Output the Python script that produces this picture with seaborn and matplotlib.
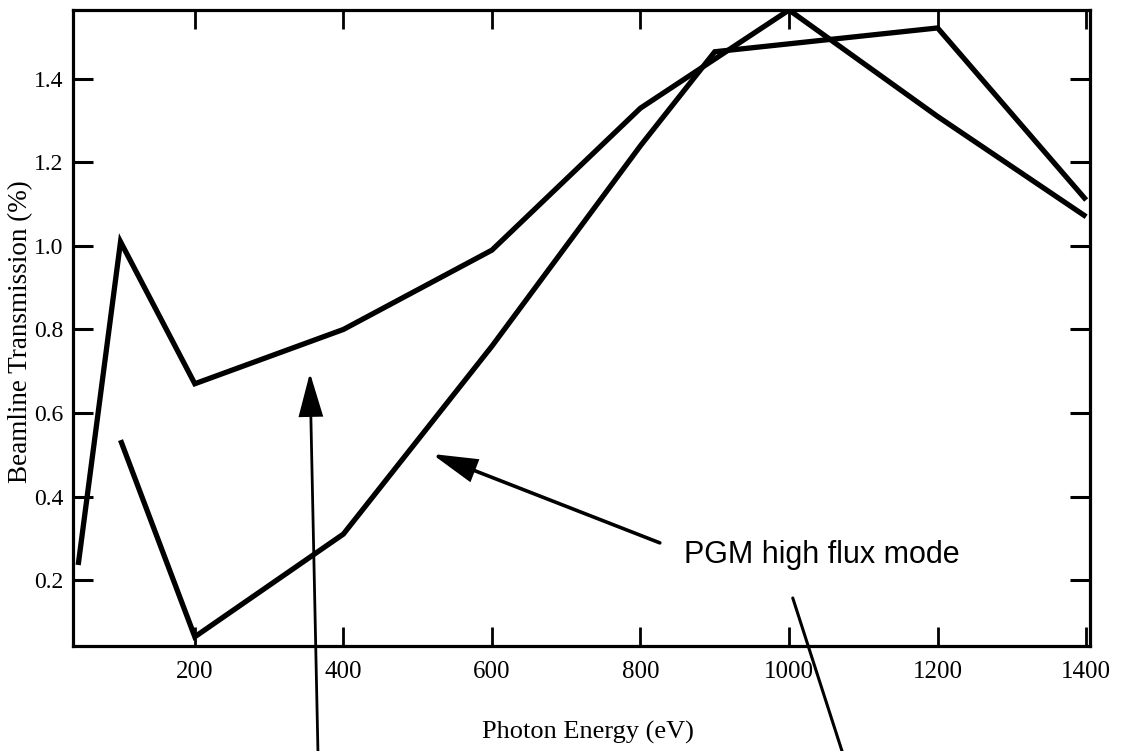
import matplotlib
matplotlib.use("Agg")
import matplotlib.pyplot as plt
import seaborn as sns
import pandas as pd

# ---- data ----
upper_energy = [43, 100, 200, 400, 600, 800, 1000, 1200, 1400]
upper_trans = [0.236, 1.01, 0.67, 0.80, 0.99, 1.33, 1.565, 1.31, 1.07]

pgm_energy = [100, 200, 400, 600, 800, 900, 1200, 1400]
pgm_trans = [0.535, 0.064, 0.31, 0.76, 1.24, 1.465, 1.522, 1.11]

xticks = [200, 400, 600, 800, 1000, 1200, 1400]
xtick_labels = ["200", "400", "600", "800", "1000", "1200", "1400"]
yticks = [0.2, 0.4, 0.6, 0.8, 1.0, 1.2, 1.4]
ytick_labels = ["0.2", "0.4", "0.6", "0.8", "1.0", "1.2", "1.4"]

x_label = "Photon Energy (eV)"
y_label = "Beamline Transmission (%)"
annotation_text = "PGM high flux mode"

sns.set_theme(style="ticks")
plt.rcParams["font.family"] = ["Liberation Serif", "DejaVu Serif"]

fig = plt.figure(figsize=(11.23, 7.51), dpi=100)
ax = fig.add_axes([0.065, 0.1398, 0.9055, 0.8469])

df_up = pd.DataFrame({"energy": upper_energy, "trans": upper_trans})
df_pgm = pd.DataFrame({"energy": pgm_energy, "trans": pgm_trans})

for d in (df_up, df_pgm):
    sns.lineplot(data=d, x="energy", y="trans", ax=ax, sort=False,
                 color="black", linewidth=3.8, estimator=None)
for ln in ax.lines:
    ln.set_solid_joinstyle("miter")
    ln.set_solid_capstyle("butt")

ax.set_xlim(36, 1405)
ax.set_ylim(0.042, 1.565)

ax.set_xticks(xticks)
ax.set_xticklabels(xtick_labels, fontsize=18)
ax.set_yticks(yticks)
ax.set_yticklabels(ytick_labels, fontsize=17)

ax.tick_params(axis="x", direction="in", length=13.5, width=2.0, pad=11,
               top=True, bottom=True, colors="black")
ax.tick_params(axis="y", direction="in", length=14.5, width=2.2, pad=7,
               left=True, right=True, colors="black")

for s in ax.spines.values():
    s.set_visible(True)
    s.set_linewidth(2.3)
    s.set_color("black")

ax.set_xlabel(x_label, fontsize=19, color="black")
ax.set_ylabel(y_label, fontsize=19.5, color="black")
ax.xaxis.set_label_coords(0.506, -0.118)
ax.yaxis.set_label_coords(-0.039, 0.495)

# annotation arrows (in data coordinates)
ax.annotate("", xy=(355, 0.696), xytext=(366, -0.23), xycoords="data",
            annotation_clip=False,
            arrowprops=dict(arrowstyle="-|>,head_length=1.35,head_width=0.38",
                            mutation_scale=20, lw=2.0, color="black",
                            shrinkA=0, shrinkB=0, joinstyle="miter"))
ax.annotate("", xy=(519, 0.502), xytext=(826, 0.289), xycoords="data",
            annotation_clip=False,
            arrowprops=dict(arrowstyle="-|>,head_length=1.35,head_width=0.36",
                            mutation_scale=20, lw=2.6, color="black",
                            shrinkA=0, shrinkB=0, joinstyle="miter"))
ax.annotate("", xy=(1005, 0.157), xytext=(1075, -0.23), xycoords="data",
            annotation_clip=False,
            arrowprops=dict(arrowstyle="-", lw=2.2, color="black",
                            shrinkA=0, shrinkB=0))
ax.text(1044, 0.241, annotation_text, ha="center", va="baseline",
        fontsize=22, family=["Liberation Sans", "DejaVu Sans"], color="black")

fig.savefig("out.png", dpi=100, facecolor="white")
